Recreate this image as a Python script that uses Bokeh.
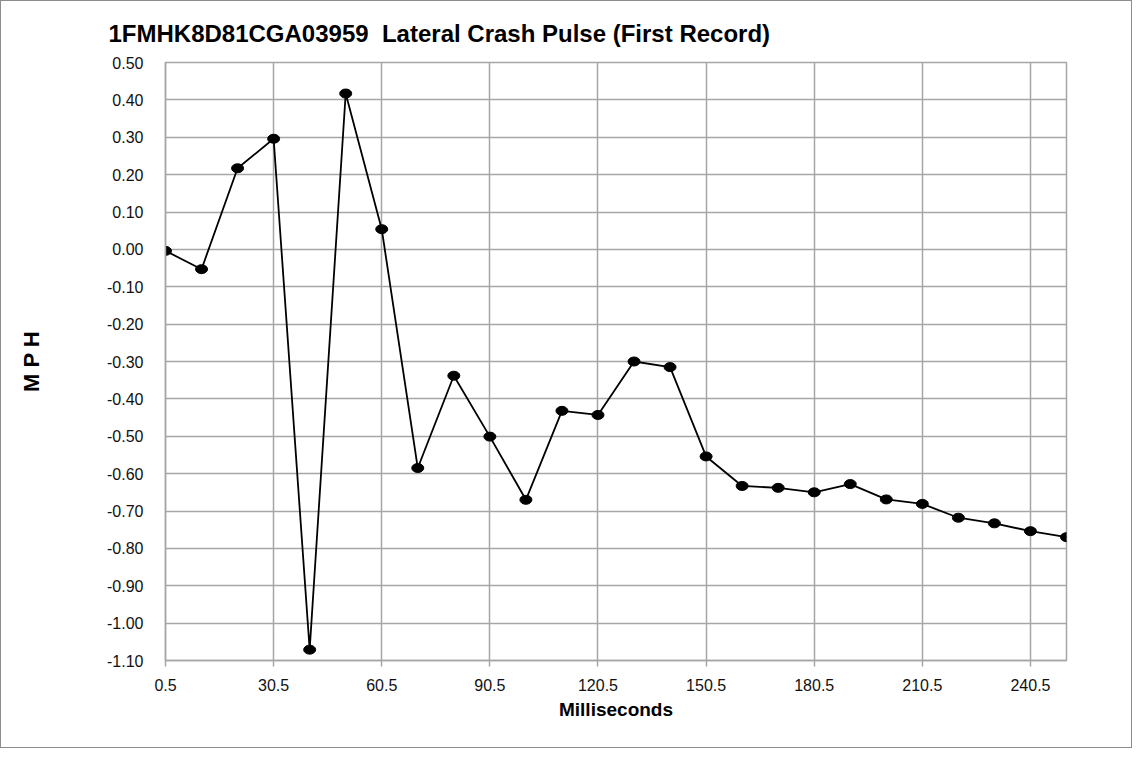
from bokeh.plotting import figure
from bokeh.models import Range1d, FixedTicker, NumeralTickFormatter, Title
from bokeh.embed import file_html
from bokeh.resources import INLINE

ms = [0.5, 10.5, 20.5, 30.5, 40.5, 50.5, 60.5, 70.5, 80.5, 90.5, 100.5, 110.5, 120.5,
      130.5, 140.5, 150.5, 160.5, 170.5, 180.5, 190.5, 200.5, 210.5, 220.5, 230.5, 240.5, 250.5]
mph = [-0.004, -0.053, 0.217, 0.296, -1.071, 0.417, 0.054, -0.585, -0.338, -0.501, -0.670,
       -0.432, -0.443, -0.300, -0.315, -0.554, -0.633, -0.638, -0.650, -0.628, -0.669,
       -0.681, -0.718, -0.733, -0.754, -0.770]
x_ticks = [0.5, 30.5, 60.5, 90.5, 120.5, 150.5, 180.5, 210.5, 240.5]
y_ticks = [0.5, 0.4, 0.3, 0.2, 0.1, 0.0, -0.1, -0.2, -0.3, -0.4, -0.5, -0.6, -0.7, -0.8, -0.9, -1.0, -1.1]
title_text = "1FMHK8D81CGA03959\u00a0 Lateral Crash Pulse (First Record)"

FONT = "Liberation Sans"
GRID = "#a6a6a6"

p = figure(width=1132, height=748, output_backend="svg", toolbar_location=None,
           x_range=Range1d(0.5, 250.5), y_range=Range1d(-1.1, 0.5),
           min_border_left=164, min_border_right=67, min_border_top=61, min_border_bottom=89,
           background_fill_color="white", border_fill_color="white")
p.styles = {"border": "1px solid #8c8c8c"}

p.title = Title(text=title_text,
                text_font=FONT, text_font_size="24px", text_font_style="bold",
                text_color="black", align="left", offset=-57, standoff=32)

p.outline_line_color = GRID
p.outline_line_width = 1.5

for ax in (p.xaxis[0], p.yaxis[0]):
    ax.axis_line_color = GRID
    ax.axis_line_width = 1.5
    ax.major_tick_line_color = GRID
    ax.major_tick_line_width = 1.5
    ax.minor_tick_line_color = None
    ax.major_label_text_font = FONT
    ax.major_label_text_font_size = "16px"
    ax.major_label_text_color = "#111111"
    ax.axis_label_text_font = FONT
    ax.axis_label_text_font_style = "bold"
    ax.axis_label_text_color = "black"

p.xaxis.ticker = FixedTicker(ticks=x_ticks)
p.xaxis.formatter = NumeralTickFormatter(format="0.0")
p.xaxis.major_tick_in = 0
p.xaxis.major_tick_out = 6
p.xaxis.major_label_standoff = 12
p.xaxis.axis_label = "Milliseconds"
p.xaxis.axis_label_text_font_size = "19px"
p.xaxis.axis_label_standoff = 5

p.yaxis.ticker = FixedTicker(ticks=y_ticks)
p.yaxis.formatter = NumeralTickFormatter(format="0.00")
p.yaxis.major_tick_in = 0
p.yaxis.major_tick_out = 0
p.yaxis.major_label_standoff = 22
p.yaxis.axis_label = "M P H"
p.yaxis.axis_label_text_font_size = "22px"
p.yaxis.axis_label_standoff = 60

p.xgrid.ticker = FixedTicker(ticks=x_ticks)
p.ygrid.ticker = FixedTicker(ticks=y_ticks)
for g in (p.xgrid[0], p.ygrid[0]):
    g.grid_line_color = GRID
    g.grid_line_width = 1.5

p.line(ms, mph, line_color="black", line_width=1.8)
p.ellipse(x=ms, y=mph, width=12, height=9, width_units="screen", height_units="screen",
          fill_color="black", line_color="black")

open("out.html", "w").write(file_html(p, INLINE))
